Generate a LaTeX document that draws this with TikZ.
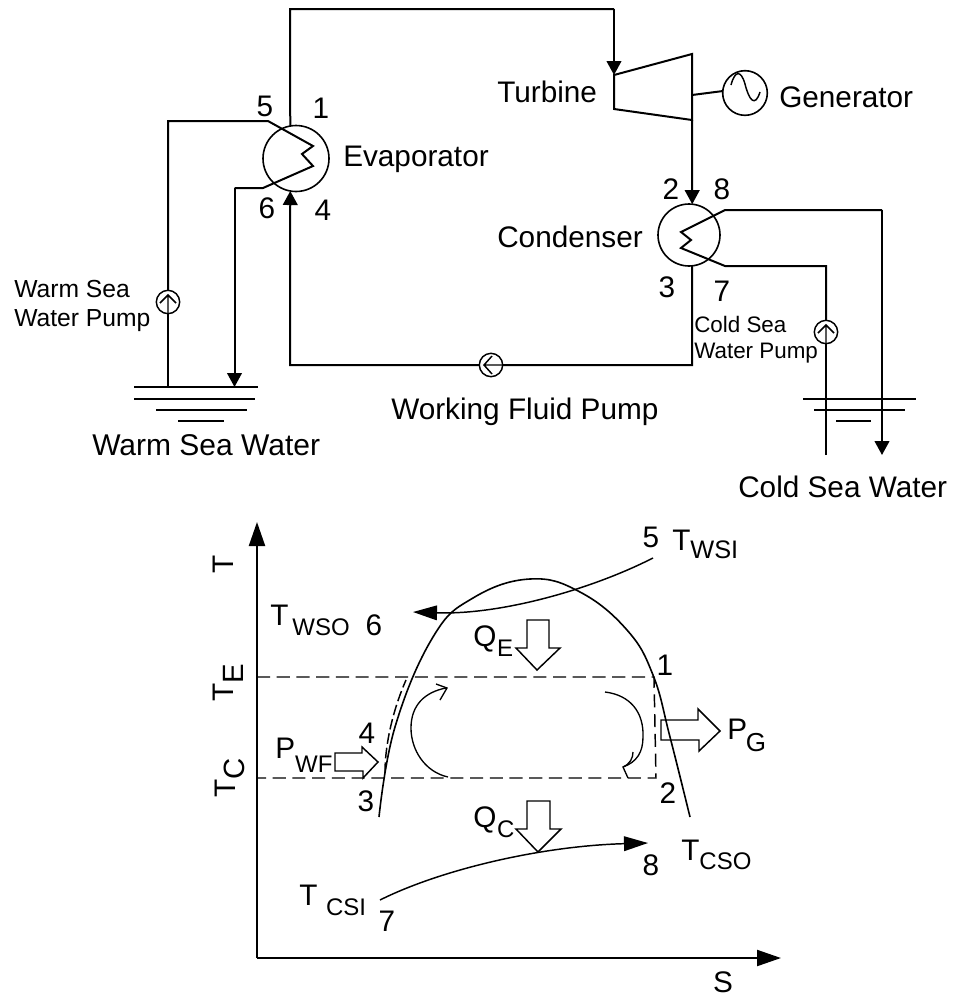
\documentclass[tikz,border=0pt]{standalone}
\usepackage{fontspec}
\setmainfont{Liberation Sans}
\usetikzlibrary{arrows.meta}
\newcommand{\fbig}{\fontsize{22.3}{26}\selectfont}
\newcommand{\fmid}{\fontsize{18.5}{22}\selectfont}
\newcommand{\fsmall}{\fontsize{16.8}{20}\selectfont}
% \sublab{kern}{main}{size}{drop}{sub}
\newcommand{\sublab}[5]{#2\kern#1\raisebox{-#4}{\fontsize{#3}{20}\selectfont #5}}
\tikzset{
  pipe/.style={line width=1.5pt,line join=miter},
  flow/.style={pipe,-{Triangle[length=10.5pt,width=11pt]}},
  exch/.style={circle,draw,line width=1.2pt,inner sep=0pt,outer sep=0pt,minimum size=#1},
  pumpc/.style={circle,draw,fill=white,line width=1.1pt,inner sep=0pt,outer sep=0pt,minimum size=17.5pt},
  chev/.style={line width=1.1pt,line join=miter},
  lab/.style={inner sep=0pt,font=\fbig},
  labw/.style={inner sep=0pt,font=\fbig,anchor=west},
  labb/.style={inner sep=0pt,font=\fbig,anchor=base west},
  labm/.style={inner sep=0pt,font=\fmid,anchor=west},
  labs/.style={inner sep=0pt,font=\fsmall,anchor=west},
  dashline/.style={line width=1.1pt,dash pattern=on 9.8pt off 5pt},
  block/.style={draw,line width=1.1pt,fill=white,line join=miter},
  bigtip/.style={line width=1.6pt,-{Triangle[length=18pt,width=12pt]}},
  curveline/.style={line width=1pt},
}
\begin{document}
\begin{tikzpicture}[x=0.75pt,y=-0.75pt]
\useasboundingbox (0,0) rectangle (953,997);
% ---------- equipment
\node[exch=49.5pt] (evap) at (296,158.5) {};
\node[exch=46.5pt] (cond) at (689,235) {};
\node[exch=33.5pt] (gen) at (745,93) {};
\node[pumpc] (wp) at (168,302) {};
\node[pumpc] (cp) at (826,332) {};
\node[pumpc] (fp) at (491,365) {};
% turbine
\coordinate (t1) at (614,75);
\coordinate (t2) at (692,54);
\coordinate (t3) at (692,120);
\coordinate (t4) at (614,109);
\coordinate (tshaft) at (692,95);
\draw[pipe] (t1) -- (t2) -- (t3) -- (t4) -- cycle;
\draw[pipe] (tshaft) -- (gen.175);
\draw[line width=1.1pt] (731,85) .. controls (735,70) and (741,70) .. (745,84) .. controls (749,100) and (755,108) .. (760,92);
% ---------- working fluid loop
\coordinate (lt) at (290,9);
\coordinate (rt) at (614,9);
\coordinate (lb) at (290,365);
\coordinate (rb) at (692,365);
\draw[pipe] (evap.100) -- (lt) -- (rt);
\draw[flow] (rt) -- (t1);
\draw[flow] (t3) -- (cond.84);
\draw[pipe] (cond.-84) -- (rb) -- (fp.east);
\draw[flow] (fp.west) -- (lb) -- (evap.260);
\draw[chev] (492,356) -- (484,365) -- (492,374) (484,365) -- (fp.east);
% ---------- warm water
\coordinate (w1) at (168,387);
\coordinate (w2) at (234.5,387);
\draw[pipe] (w1) -- (wp.south);
\draw[pipe] (wp.north) -- (168,121) -- (268,121) -- (313,146) -- (302,154) -- (313,166) -- (263,188) -- (234.5,188);
\draw[flow] (234.5,188) -- (w2);
\draw[chev] (160,303) -- (168,295) -- (176,303) (168,295) -- (wp.south);
\draw[pipe] (134,387) -- (258,387);
\draw[pipe] (134,398.5) -- (255,398.5);
\draw[pipe] (156,410) -- (247,410);
\draw[line width=1.2pt] (178,421) -- (224,421);
% ---------- cold water
\coordinate (c1) at (826,455);
\coordinate (c2) at (882,455);
\draw[pipe] (c1) -- (cp.south);
\draw[pipe] (cp.north) -- (826,266) -- (725,266) -- (681,248) -- (691,240) -- (681,232) -- (725,210) -- (882,210);
\draw[flow] (882,210) -- (c2);
\draw[chev] (818,333) -- (826,325) -- (834,333) (826,325) -- (cp.south);
\draw[line width=1.3pt] (803,399) -- (916,399);
\draw[line width=1.3pt] (814,410) -- (905,410);
\draw[line width=1.2pt] (836,421) -- (871,421);
% ---------- upper labels
\node[lab] (n5) at (265,106) {5};
\node[lab] (n1) at (321,108) {1};
\node[lab] (n6) at (267,208) {6};
\node[lab] (n4) at (323,210) {4};
\node[labw] (levap) at (343,159) {Evaporator};
\node[labw] (lturb) at (497,92) {Turbine};
\node[labw] (lgen) at (779,97) {Generator};
\node[labw] (lcond) at (497,237) {Condenser};
\node[lab] (n2) at (671,189) {2};
\node[lab] (n8) at (722,189) {8};
\node[lab] (n3) at (667,287) {3};
\node[lab] (n7) at (722,291) {7};
\node[labm] (lwp1) at (14,289) {Warm Sea};
\node[labm] (lwp2) at (14,321) {Water Pump};
\node[labs] (lcp1) at (694,324) {Cold Sea};
\node[labs] (lcp2) at (694,353) {Water Pump};
\node[labw] (lfp) at (391,412) {Working Fluid Pump};
\node[labw,font=\fontsize{22.5}{26}\selectfont] (lws) at (92,445) {Warm Sea Water};
\node[labw] (lcs) at (738,487) {Cold Sea Water};
% ---------- T-S diagram axes
\coordinate (o) at (257,958);
\coordinate (ty) at (257,522);
\coordinate (sx) at (781,958);
\draw[bigtip] (o) -- (ty);
\draw[bigtip] (o) -- (sx);
% dome
\draw[line width=1.2pt] plot[smooth,tension=0.7] coordinates {(379,817) (395,727) (433,637) (473,598) (530,579) (580,592) (627,630) (653,675) (670,737) (690,817)};
% dashed cycle
\coordinate (d1) at (257,677);
\coordinate (d2) at (654,677);
\coordinate (d3) at (656,778);
\coordinate (d4) at (257,778);
\draw[dashline] (d1) -- (d2) -- (d3) -- (d4);
\draw[dashline,dash pattern=on 8pt off 3pt] (385,773) .. controls (385,740) and (395,705) .. (406,680);
% cycle arrows
\draw[curveline] (448,777) .. controls (425,772) and (411,750) .. (411,728) .. controls (411,705) and (425,692) .. (446,688);
\draw[curveline] (436,684) -- (447,688) -- (440,700);
\draw[curveline] (605,692) .. controls (630,695) and (644,712) .. (643,737) .. controls (643,752) and (637,762) .. (623,767);
\draw[curveline] (633,752) .. controls (633,758) and (630,764) .. (623,767) -- (628,778);
% sea water lines
\draw[line width=1.1pt,-{Triangle[length=18pt,width=11pt]}] (653,558) .. controls (590,590) and (500,615) .. (413,612);
\draw[line width=1.1pt,-{Triangle[length=18pt,width=11pt]}] (380,900) .. controls (440,870) and (540,846) .. (648,843);
% block arrows
\draw[block] (527,620) -- (549,620) -- (549,648) -- (560,648) -- (537,670) -- (516,648) -- (527,648) -- cycle;
\draw[block] (527,801) -- (550,801) -- (550,829) -- (561,829) -- (538,852) -- (516,829) -- (527,829) -- cycle;
\draw[block,fill=none] (661,720) -- (698,720) -- (698,709) -- (720,731) -- (699,751) -- (699,740) -- (661,740) -- cycle;
\draw[block] (335,753) -- (362,753) -- (362,747) -- (378,762) -- (363,778) -- (363,771) -- (335,771) -- cycle;
% lower labels
\node[lab,rotate=90,anchor=base] (lT) at (233,564) {T};
\node[lab] (lS) at (723,982) {S};
\node[labb,rotate=90] (lTE) at (233,702) {\sublab{0pt}{T}{22pt}{8pt}{E}};
\node[labb,rotate=90] (lTC) at (235,798) {\sublab{0pt}{T}{22pt}{7pt}{C}};
\node[lab] (m5) at (651,537) {5};
\node[labb] (lwsi) at (672,550) {\sublab{0pt}{T}{19pt}{6pt}{WSI}};
\node[labb] (lwso) at (270,625) {\sublab{3pt}{T}{18pt}{8pt}{WSO}};
\node[lab] (m6) at (374,625) {6};
\node[labb] (lqe) at (473,646) {\sublab{0.5pt}{Q}{18pt}{8pt}{E}};
\node[lab] (m1) at (665,665) {1};
\node[lab] (m4) at (367,733) {4};
\node[labb] (lpwf) at (275,758) {\sublab{0pt}{P}{18pt}{10.5pt}{WF}};
\node[lab] (m3) at (366,801) {3};
\node[lab] (m2) at (668,793) {2};
\node[labb] (lpg) at (727,739) {\sublab{-1pt}{P}{19.5pt}{9pt}{G}};
\node[labb] (lqc) at (473,827) {\sublab{0.5pt}{Q}{18pt}{8pt}{C}};
\node[labb] (ltcso) at (681,860) {\sublab{0pt}{T}{18pt}{7pt}{CSO}};
\node[lab] (m8) at (651,865) {8};
\node[labb] (ltcsi) at (299,905) {\sublab{6.5pt}{T}{18pt}{8pt}{CSI}};
\node[lab] (m7) at (387,921) {7};
\end{tikzpicture}
\end{document}
